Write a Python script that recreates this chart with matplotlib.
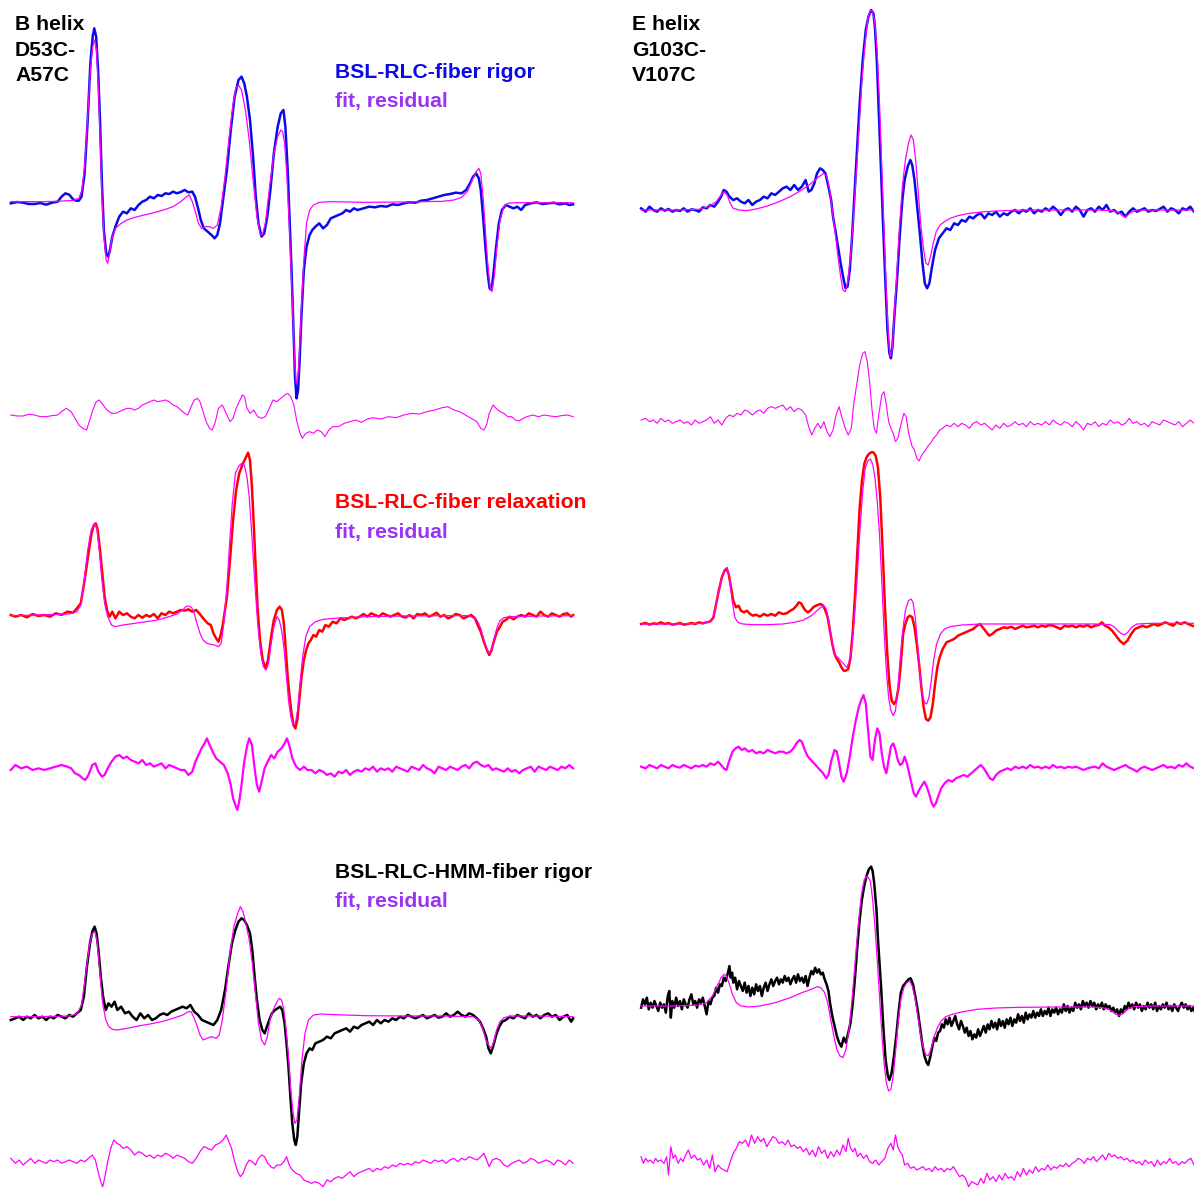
import numpy as np
import matplotlib
matplotlib.use('Agg')
import matplotlib.pyplot as plt

## EPR spectra: data, fit and residual for two labelled helices
# field axis in arbitrary units (0..1560), signal in arbitrary units

# ---------- B helix, fiber rigor ----------
b_rigor_data = [(28,0),(45,4),(60,2),(75,-2),(90,-2),(105,1),(120,-4),(135,2),(150,5),(160,20),(170,30),(180,26),
    (190,12),(198,8),(205,8),(212,20),(220,90),(228,250),(235,420),(241,500),(245,525),(250,500),(255,400),(260,250),
    (265,60),(270,-80),(276,-150),(281,-160),(286,-140),(292,-100),(300,-70),(310,-40),(320,-25),(330,-30),(340,-15),
    (350,-20),(360,-5),(370,5),(380,10),(390,20),(400,15),(410,25),(420,22),(430,30),(440,28),(450,35),(460,30),
    (470,34),(480,40),(490,33),(500,35),(507,20),(515,-15),(522,-50),(530,-75),(540,-85),(550,-95),(558,-105),
    (565,-95),(572,-60),(580,10),(590,100),(600,220),(610,320),(620,370),(628,380),(635,360),(642,320),(650,250),
    (658,140),(665,20),(672,-60),(680,-100),(687,-90),(695,-40),(703,40),(712,150),(722,230),(730,270),(737,280),
    (742,230),(748,100),(753,-50),(758,-200),(763,-380),(767,-520),(771,-585),(775,-560),(779,-470),(784,-330),
    (790,-200),(797,-130),(805,-95),(812,-80),(820,-70),(830,-60),(840,-75),(850,-65),(860,-45),(870,-40),(880,-35),
    (890,-30),(900,-20),(910,-25),(920,-15),(930,-20),(945,-15),(960,-10),(975,-12),(990,-8),(1005,-10),(1020,-3),
    (1035,-5),(1050,0),(1065,3),(1080,2),(1095,8),(1110,10),(1125,15),(1140,20),(1155,25),(1170,28),(1185,32),
    (1200,30),(1212,40),(1222,60),(1230,80),(1238,90),(1245,75),(1250,40),(1256,-40),(1262,-130),(1268,-210),
    (1273,-255),(1278,-260),(1284,-200),(1290,-130),(1297,-60),(1305,-20),(1315,-5),(1325,-10),(1335,-15),(1345,-10),
    (1355,-20),(1365,-5),(1380,0),(1395,3),(1410,-2),(1425,0),(1440,2),(1455,-3),(1470,0),(1480,-5),(1490,-3)]
b_rigor_fit = [(28,5),(100,5),(150,6),(190,9),(205,15),(213,40),(220,110),(228,260),(235,400),(241,470),(246,490),
    (251,460),(256,340),(261,170),(266,0),(271,-110),(276,-170),(280,-180),(285,-150),(292,-100),(300,-75),(315,-60),
    (330,-50),(350,-42),(375,-35),(400,-28),(425,-20),(450,-10),(470,5),(485,20),(492,25),(500,5),(508,-25),(516,-60),
    (524,-75),(535,-70),(545,-70),(555,-75),(565,-65),(575,-10),(585,80),(595,190),(605,290),(613,345),(620,355),
    (628,340),(638,280),(648,190),(658,70),(668,-40),(676,-90),(682,-95),(690,-60),(700,40),(712,150),(722,200),
    (730,220),(735,215),(740,180),(746,80),(752,-60),(757,-200),(762,-350),(766,-470),(770,-540),(774,-530),(778,-460),
    (783,-330),(790,-170),(797,-60),(805,-20),(815,-5),(830,3),(860,5),(950,3),(1050,4),(1150,6),(1180,10),(1200,18),
    (1215,35),(1228,70),(1238,95),(1245,105),(1250,90),(1256,20),(1262,-80),(1268,-180),(1274,-250),(1279,-265),
    (1285,-220),(1292,-130),(1300,-50),(1310,-10),(1320,0),(1340,2),(1400,2),(1490,2)]
b_rigor_res = [(28,0),(45,-3),(60,-3),(75,2),(90,0),(105,-5),(120,-5),(135,-2),(150,0),(160,10),(172,20),(185,10),
    (195,-10),(205,-30),(215,-40),(225,-45),(232,-20),(240,10),(250,40),(258,45),(268,30),(278,15),(290,5),(300,5),
    (310,10),(320,15),(330,20),(340,20),(350,15),(360,20),(370,30),(380,35),(390,40),(400,45),(410,40),(420,42),
    (430,45),(440,40),(450,30),(460,25),(470,15),(480,5),(488,0),(495,20),(505,45),(513,50),(520,40),(528,10),
    (536,-20),(545,-40),(552,-45),(560,-20),(568,20),(578,30),(588,5),(598,-20),(606,-10),(614,20),(622,40),(630,60),
    (636,55),(642,20),(650,5),(660,15),(670,-5),(680,-10),(690,-5),(700,20),(710,45),(720,40),(730,50),(740,60),
    (748,65),(756,55),(764,30),(772,-20),(780,-55),(786,-70),(795,-55),(805,-50),(815,-55),(825,-45),(835,-50),
    (845,-65),(855,-45),(865,-35),(880,-35),(895,-25),(910,-20),(925,-15),(940,-22),(955,-12),(970,-8),(990,-12),
    (1010,-5),(1030,-8),(1050,0),(1070,5),(1090,3),(1110,10),(1130,15),(1150,22),(1165,25),(1180,15),(1195,10),
    (1210,0),(1225,-10),(1240,-20),(1250,-40),(1258,-45),(1265,-30),(1272,5),(1282,30),(1290,20),(1300,10),(1310,5),
    (1320,-5),(1330,-5),(1340,-15),(1350,-18),(1360,-10),(1370,-5),(1385,0),(1400,-5),(1415,0),(1430,-3),(1445,-5),
    (1460,-2),(1475,0),(1490,-5)]

# ---------- B helix, fiber relaxation ----------
b_relax_data = [(28,5),(40,0),(55,5),(70,-2),(85,8),(100,2),(115,5),(130,0),(145,10),(160,5),(175,15),(190,12),
    (200,25),(210,40),(220,110),(230,190),(238,250),(244,275),(249,280),(254,260),(260,200),(266,130),(272,60),
    (278,20),(285,0),(292,15),(300,-5),(310,15),(320,5),(330,10),(340,0),(350,-5),(360,5),(370,-3),(380,5),(390,0),
    (400,8),(410,-5),(420,10),(430,5),(440,15),(450,10),(460,15),(470,20),(480,18),(490,22),(500,15),(510,20),
    (518,10),(525,0),(532,-10),(540,-20),(548,-25),(555,-50),(562,-65),(568,-75),(574,-55),(580,-20),(590,60),
    (598,170),(606,290),(614,380),(622,430),(630,455),(638,475),(645,492),(650,470),(655,390),(660,270),(665,140),
    (670,20),(676,-70),(683,-130),(690,-155),(697,-130),(705,-60),(712,-10),(720,20),(727,30),(733,20),(738,-20),
    (743,-100),(748,-180),(753,-240),(758,-290),(763,-325),(768,-335),(773,-310),(778,-250),(784,-180),(790,-130),
    (796,-100),(802,-80),(808,-70),(815,-55),(822,-60),(830,-40),(838,-45),(846,-25),(855,-30),(865,-15),(875,-20),
    (885,-5),(895,-10),(905,-5),(915,0),(925,-5),(935,0),(945,8),(955,0),(965,10),(975,5),(985,0),(995,10),(1005,5),
    (1015,0),(1025,5),(1035,10),(1045,0),(1055,-2),(1065,5),(1075,-5),(1085,8),(1095,5),(1105,10),(1115,0),(1125,5),
    (1135,12),(1145,0),(1155,5),(1165,-5),(1175,0),(1185,8),(1195,5),(1205,-5),(1215,0),(1225,5),(1235,-5),
    (1242,-25),(1250,-45),(1258,-75),(1266,-100),(1272,-115),(1278,-100),(1285,-70),(1292,-45),(1300,-30),
    (1307,-15),(1315,-10),(1325,0),(1335,-8),(1345,0),(1355,5),(1365,0),(1375,10),(1385,5),(1395,0),(1405,15),
    (1415,5),(1425,0),(1435,10),(1445,5),(1455,0),(1465,8),(1475,10),(1485,0),(1490,5)]
b_relax_fit = [(28,3),(100,5),(180,8),(200,15),(210,35),(218,100),(228,200),(237,260),(246,280),(252,265),
    (258,200),(265,110),(272,40),(280,0),(290,-25),(300,-30),(320,-25),(350,-20),(380,-15),(410,-10),(440,0),
    (460,8),(475,20),(483,30),(490,32),(498,28),(505,10),(512,-20),(520,-50),(528,-70),(538,-80),(548,-83),
    (558,-85),(568,-90),(575,-80),(582,-20),(590,90),(597,220),(604,340),(612,430),(620,450),(628,460),(635,455),
    (642,420),(648,360),(655,240),(662,110),(670,-20),(678,-110),(685,-150),(692,-160),(698,-140),(705,-80),
    (712,-30),(720,0),(726,-10),(732,-40),(738,-90),(744,-170),(750,-250),(756,-300),(762,-325),(768,-320),
    (774,-280),(780,-200),(787,-120),(795,-60),(805,-30),(820,-15),(840,-8),(870,-5),(950,0),(1050,2),(1150,3),
    (1220,3),(1240,-10),(1250,-35),(1258,-70),(1265,-95),(1272,-110),(1279,-95),(1286,-60),(1293,-30),(1300,-12),
    (1310,-3),(1330,0),(1400,2),(1490,3)]
b_relax_res = [(28,-5),(40,10),(55,0),(70,5),(85,-5),(100,0),(115,-5),(130,0),(145,5),(160,10),(175,5),(185,0),
    (195,-15),(205,-20),(215,-30),(222,-35),(230,-20),(240,10),(248,15),(256,-10),(265,-25),(272,-20),(280,0),
    (290,20),(300,35),(310,40),(320,30),(330,35),(340,25),(350,20),(360,15),(370,25),(380,10),(390,15),(400,5),
    (410,10),(420,15),(430,0),(440,10),(450,5),(460,0),(470,-5),(480,-5),(490,-20),(500,-10),(508,20),(516,40),
    (524,60),(532,75),(538,90),(545,70),(553,50),(562,30),(572,20),(582,10),(592,-15),(600,-50),(606,-90),
    (612,-110),(617,-125),(622,-100),(628,-50),(635,20),(643,70),(648,90),(655,70),(662,0),(668,-50),(674,-70),
    (680,-40),(688,0),(696,20),(705,40),(713,30),(722,50),(732,60),(740,75),(746,90),(752,70),(760,30),(770,5),
    (780,-5),(790,5),(800,-5),(810,-5),(820,-15),(830,-5),(840,-10),(850,-20),(860,-15),(870,-25),(880,-10),
    (890,-15),(900,-5),(910,-20),(920,-10),(930,-5),(940,-10),(950,0),(960,-5),(970,5),(980,-10),(990,0),(1000,-5),
    (1010,0),(1020,-10),(1030,5),(1040,0),(1050,-5),(1060,-10),(1070,5),(1080,0),(1090,-5),(1100,10),(1110,0),
    (1120,-5),(1130,-15),(1140,5),(1150,0),(1160,-5),(1170,5),(1180,0),(1190,-5),(1200,5),(1210,10),(1220,0),
    (1230,15),(1240,20),(1250,10),(1260,5),(1270,10),(1280,-5),(1290,0),(1300,-5),(1310,-10),(1320,0),(1330,-10),
    (1340,-5),(1350,-15),(1360,-5),(1370,0),(1380,5),(1390,-10),(1400,5),(1410,0),(1420,-5),(1430,5),(1440,0),
    (1450,-5),(1460,5),(1470,0),(1480,10),(1490,0)]

# ---------- B helix, HMM fiber rigor ----------
b_hmm_data = [(28,-10),(40,-5),(50,0),(60,-10),(70,0),(80,-5),(90,5),(100,-5),(110,0),(120,-10),(130,0),(140,-5),
    (150,5),(160,0),(170,-5),(180,5),(190,0),(200,10),(210,20),(218,60),(226,150),(234,220),(240,255),(246,270),
    (251,250),(256,200),(262,120),(268,60),(275,20),(282,40),(290,30),(298,45),(305,20),(315,30),(325,10),(335,15),
    (345,0),(355,-10),(365,10),(375,-5),(385,5),(395,-10),(405,-5),(415,5),(425,10),(435,5),(445,15),(455,20),
    (465,25),(475,30),(485,25),(495,35),(505,15),(515,5),(525,-10),(535,-15),(545,-20),(555,-25),(565,-10),(575,20),
    (585,80),(595,160),(603,220),(612,260),(620,285),(628,295),(635,290),(642,275),(650,250),(656,200),(662,120),
    (668,50),(675,-10),(682,-40),(688,-50),(694,-30),(700,-10),(707,10),(715,20),(722,25),(728,30),(734,20),
    (740,-20),(745,-80),(750,-150),(755,-240),(760,-320),(765,-370),(769,-385),(773,-360),(778,-280),(783,-200),
    (790,-140),(797,-110),(805,-95),(812,-100),(820,-80),(830,-75),(840,-70),(850,-60),(860,-65),(870,-50),
    (880,-45),(890,-40),(900,-35),(910,-45),(920,-30),(930,-35),(940,-25),(950,-20),(960,-15),(970,-25),(980,-10),
    (990,-20),(1000,-10),(1010,-15),(1020,-5),(1030,-10),(1040,0),(1050,-5),(1060,5),(1070,0),(1080,-5),(1090,0),
    (1100,5),(1110,-5),(1120,0),(1130,5),(1140,-3),(1150,0),(1160,10),(1170,0),(1180,5),(1190,15),(1200,5),(1210,0),
    (1220,10),(1230,5),(1240,-5),(1248,-15),(1256,-35),(1264,-60),(1270,-95),(1276,-110),(1282,-90),(1290,-55),
    (1298,-30),(1306,-15),(1315,-10),(1325,0),(1335,-5),(1345,5),(1355,0),(1365,-5),(1375,10),(1385,0),(1395,5),
    (1405,-5),(1415,5),(1425,10),(1435,0),(1445,5),(1455,-10),(1465,0),(1475,5),(1485,-15),(1490,-5)]
b_hmm_fit = [(28,0),(100,0),(180,2),(200,8),(212,35),(222,120),(232,210),(240,250),(247,255),(253,220),(260,130),
    (267,40),(275,-10),(283,-30),(292,-38),(305,-40),(330,-35),(360,-28),(390,-22),(420,-15),(450,-5),(475,5),
    (490,15),(497,15),(505,-5),(513,-30),(520,-55),(528,-70),(538,-65),(550,-60),(562,-65),(570,-55),(578,-10),
    (588,80),(598,190),(608,270),(618,310),(625,330),(632,315),(640,275),(648,230),(656,160),(664,70),(672,-20),
    (680,-70),(688,-85),(695,-60),(702,-10),(710,20),(718,40),(726,55),(732,50),(738,20),(744,-40),(750,-120),
    (756,-220),(762,-290),(767,-320),(772,-310),(778,-240),(785,-130),(793,-50),(802,-10),(815,5),(835,8),(870,6),
    (950,3),(1050,2),(1150,2),(1230,0),(1245,-10),(1255,-35),(1262,-65),(1270,-85),(1277,-95),(1284,-75),(1291,-40),
    (1300,-15),(1310,-3),(1330,2),(1400,2),(1490,0)]
b_hmm_res = [(28,10),(40,-5),(50,5),(60,-10),(70,0),(80,10),(90,-5),(100,5),(110,0),(120,-5),(130,5),(140,0),
    (150,5),(160,-5),(170,0),(180,5),(190,0),(200,-5),(210,5),(220,0),(230,10),(240,20),(248,5),(255,-30),(262,-60),
    (267,-75),(272,-50),(280,0),(288,40),(296,65),(304,55),(312,50),(320,40),(330,45),(340,35),(350,20),(360,30),
    (370,25),(380,15),(390,20),(400,10),(410,20),(420,15),(430,25),(440,20),(450,10),(460,20),(470,15),(480,10),
    (490,0),(500,-5),(510,10),(520,30),(530,45),(540,40),(550,35),(560,50),(570,55),(580,65),(588,80),(595,60),
    (602,40),(610,0),(618,-30),(625,-45),(632,-35),(640,-10),(648,5),(656,0),(664,-10),(672,10),(680,20),(688,15),
    (696,-5),(704,-15),(712,-20),(720,-10),(730,-10),(738,0),(745,15),(752,-10),(760,-25),(770,-35),(780,-40),
    (790,-55),(800,-60),(810,-65),(820,-60),(830,-65),(840,-75),(850,-55),(860,-60),(870,-50),(880,-45),(890,-50),
    (900,-40),(910,-30),(920,-45),(930,-35),(940,-30),(950,-25),(960,-20),(970,-30),(980,-20),(990,-25),(1000,-15),
    (1010,-20),(1020,-10),(1030,-15),(1040,-5),(1050,-10),(1060,-5),(1070,-10),(1080,0),(1090,-5),(1100,5),(1110,0),
    (1120,-5),(1130,5),(1140,0),(1150,5),(1160,-5),(1170,5),(1180,10),(1190,0),(1200,10),(1210,5),(1220,15),
    (1230,10),(1240,5),(1250,15),(1258,25),(1265,5),(1272,-15),(1280,5),(1290,10),(1300,5),(1310,-10),(1320,-15),
    (1330,-5),(1340,0),(1350,5),(1360,-5),(1370,0),(1380,10),(1390,5),(1400,-5),(1410,0),(1420,5),(1430,0),
    (1440,-10),(1450,5),(1460,0),(1470,-10),(1480,5),(1490,-5)]

# ---------- E helix, fiber rigor ----------
e_rigor_data = [(108,5),(120,-5),(130,10),(140,0),(150,-5),(160,5),(170,-2),(180,3),(190,-5),(200,0),(210,-3),
    (220,5),(230,-5),(240,2),(250,0),(260,-5),(270,8),(280,5),(290,15),(300,10),(310,25),(318,40),(325,60),(332,55),
    (340,40),(350,30),(360,35),(370,25),(380,20),(390,30),(400,15),(410,25),(420,30),(430,40),(440,35),(450,50),
    (460,45),(470,55),(480,65),(490,70),(500,60),(510,75),(520,60),(530,70),(540,90),(548,55),(555,60),(563,80),
    (570,110),(578,125),(585,120),(592,110),(600,70),(607,30),(612,-20),(618,-60),(625,-110),(632,-160),(640,-210),
    (645,-235),(650,-230),(656,-180),(662,-80),(668,40),(675,180),(682,320),(690,450),(698,540),(705,580),(712,600),
    (718,590),(722,550),(727,450),(732,300),(738,120),(744,-60),(750,-230),(755,-360),(760,-430),(764,-445),
    (768,-410),(773,-320),(780,-210),(787,-80),(794,30),(800,90),(808,130),(815,150),(820,135),(826,90),(832,20),
    (840,-70),(847,-160),(853,-220),(859,-235),(865,-220),(872,-170),(880,-120),(890,-85),(900,-70),(910,-55),
    (920,-60),(930,-40),(940,-45),(950,-30),(960,-35),(970,-20),(980,-25),(990,-15),(1000,-10),(1010,-25),
    (1020,-10),(1030,-15),(1040,-5),(1050,-20),(1060,-10),(1070,-15),(1080,-5),(1090,0),(1100,-10),(1110,0),
    (1120,-5),(1130,5),(1140,-10),(1150,0),(1160,-5),(1170,5),(1180,-2),(1190,10),(1200,0),(1210,-15),(1220,0),
    (1230,5),(1240,-5),(1250,10),(1260,0),(1270,-20),(1280,0),(1290,5),(1300,-5),(1310,10),(1320,0),(1330,15),
    (1340,-5),(1350,0),(1360,-10),(1370,-5),(1380,-20),(1390,-5),(1400,5),(1410,-5),(1420,0),(1430,5),(1440,-5),
    (1450,0),(1460,-3),(1470,3),(1480,10),(1490,-5),(1500,5),(1510,0),(1520,-10),(1530,5),(1540,0),(1550,10),
    (1560,-5),(1568,0)]
e_rigor_fit = [(108,0),(200,0),(260,2),(285,10),(305,25),(318,45),(326,55),(334,45),(342,20),(350,5),(365,0),
    (385,-2),(410,3),(440,12),(470,25),(500,40),(530,60),(555,80),(575,100),(588,110),(596,100),(603,60),(610,0),
    (617,-60),(624,-130),(632,-200),(638,-240),(644,-245),(650,-220),(657,-150),(664,-50),(672,90),(680,240),
    (688,390),(696,500),(703,570),(710,600),(716,595),(722,560),(728,470),(734,320),(740,130),(746,-60),(752,-250),
    (758,-390),(762,-440),(767,-420),(772,-330),(779,-200),(786,-60),(794,70),(802,150),(810,200),(817,225),
    (823,210),(829,150),(836,50),(843,-50),(850,-120),(856,-160),(862,-165),(868,-140),(875,-100),(883,-65),
    (893,-45),(905,-35),(920,-25),(940,-17),(970,-10),(1010,-5),(1060,-2),(1120,0),(1200,0),(1300,0),(1350,-2),
    (1365,-10),(1375,-20),(1383,-18),(1393,-8),(1410,0),(1480,0),(1568,0)]
e_rigor_res = [(108,5),(120,10),(130,0),(140,5),(150,-5),(160,10),(170,0),(180,5),(190,-5),(200,0),(210,5),
    (220,-5),(230,0),(240,-10),(250,5),(260,-5),(270,0),(280,5),(290,15),(300,-5),(310,5),(320,-10),(330,10),
    (340,20),(350,15),(360,25),(370,20),(380,35),(390,30),(400,20),(410,30),(420,35),(430,25),(440,40),(450,45),
    (460,40),(470,45),(480,50),(490,35),(500,45),(510,30),(520,40),(530,35),(540,20),(548,-15),(556,-40),(564,-20),
    (572,-5),(580,-20),(588,0),(596,-30),(604,-45),(612,-25),(620,20),(628,45),(636,10),(644,-20),(652,-40),
    (660,-20),(666,50),(674,110),(682,170),(690,205),(696,210),(702,180),(708,120),(714,40),(720,-20),(726,-35),
    (732,20),(740,80),(746,90),(752,50),(758,0),(764,-20),(770,-35),(776,-60),(782,-50),(790,-10),(798,25),(804,15),
    (810,-30),(816,-60),(820,-75),(826,-85),(832,-110),(838,-118),(845,-100),(852,-90),(860,-75),(868,-65),
    (876,-50),(884,-40),(892,-25),(900,-20),(910,-10),(920,-15),(930,-5),(940,-15),(950,-5),(960,-10),(970,-20),
    (980,-5),(990,0),(1000,-10),(1010,-5),(1020,-15),(1030,-25),(1040,-10),(1050,-20),(1060,-5),(1070,-15),
    (1080,-10),(1090,0),(1100,-10),(1110,-5),(1120,-15),(1130,0),(1140,-10),(1150,-5),(1160,-10),(1170,0),
    (1180,-10),(1190,5),(1200,-5),(1210,-10),(1220,0),(1230,-5),(1240,-15),(1250,0),(1260,-10),(1270,-25),(1280,-5),
    (1290,-10),(1300,0),(1310,-15),(1320,-5),(1330,-10),(1340,5),(1350,-5),(1360,0),(1370,-10),(1380,-5),(1390,10),
    (1400,-5),(1410,0),(1420,-10),(1430,-5),(1440,-15),(1450,0),(1460,-5),(1470,-10),(1480,5),(1490,0),(1500,-5),
    (1510,-10),(1520,0),(1530,-15),(1540,-5),(1550,5),(1560,-5),(1568,0)]

# ---------- E helix, fiber relaxation ----------
e_relax_data = [(108,0),(120,3),(130,-2),(140,2),(150,0),(160,5),(170,0),(180,3),(190,-2),(200,0),(210,3),(220,-2),
    (230,0),(240,3),(250,0),(260,5),(270,2),(280,5),(290,8),(298,20),(305,60),(312,100),(320,140),(327,160),
    (333,165),(338,150),(344,110),(350,70),(357,50),(364,55),(370,40),(378,35),(386,40),(394,30),(402,25),(410,28),
    (420,22),(430,30),(440,25),(450,30),(460,25),(470,35),(480,30),(490,32),(500,40),(508,45),(516,55),(522,65),
    (528,62),(534,50),(540,40),(546,35),(552,40),(560,50),(567,55),(574,58),(580,60),(586,55),(592,40),(598,20),
    (604,-20),(610,-60),(616,-90),(622,-105),(628,-115),(634,-130),(640,-140),(646,-140),(652,-135),(658,-100),
    (664,-20),(670,90),(676,220),(682,350),(688,430),(694,480),(700,500),(706,510),(712,515),(718,515),(724,505),
    (730,470),(736,380),(742,230),(748,60),(754,-80),(760,-180),(766,-230),(772,-240),(778,-230),(784,-190),
    (790,-120),(796,-30),(802,0),(808,20),(814,25),(820,20),(826,-10),(832,-60),(838,-120),(844,-190),(850,-250),
    (856,-285),(862,-290),(868,-280),(874,-240),(880,-180),(886,-130),(892,-100),(900,-75),(910,-55),(920,-50),
    (930,-45),(940,-35),(950,-30),(960,-25),(970,-20),(980,-15),(990,-5),(998,0),(1005,-10),(1015,-25),(1022,-35),
    (1030,-30),(1040,-20),(1050,-15),(1060,-10),(1070,-12),(1080,-8),(1090,-15),(1100,-10),(1110,-5),(1120,-10),
    (1130,-8),(1140,-5),(1150,-10),(1160,-5),(1170,-8),(1180,-3),(1190,-5),(1200,-10),(1210,-15),(1220,-5),
    (1230,-8),(1240,-5),(1250,-10),(1260,-5),(1270,-8),(1280,-3),(1290,-10),(1300,-5),(1310,-3),(1318,5),(1326,-5),
    (1335,-10),(1345,-20),(1355,-35),(1365,-50),(1375,-60),(1385,-50),(1395,-30),(1405,-15),(1415,-10),(1425,-5),
    (1435,-10),(1445,-5),(1455,0),(1465,-5),(1475,0),(1485,5),(1495,0),(1505,-5),(1515,5),(1525,0),(1535,5),
    (1545,0),(1555,-5),(1568,-10)]
e_relax_fit = [(108,0),(200,0),(270,2),(290,8),(300,30),(310,90),(320,140),(328,165),(334,170),(340,140),(347,70),
    (354,20),(362,5),(375,0),(400,-2),(440,-2),(480,0),(510,5),(535,12),(555,25),(570,40),(580,50),(588,55),
    (594,45),(600,15),(606,-30),(612,-70),(618,-95),(625,-100),(632,-110),(640,-120),(648,-130),(656,-110),(662,-60),
    (668,20),(675,130),(682,270),(690,400),(697,470),(704,490),(710,495),(716,480),(722,440),(728,370),(734,270),
    (740,130),(746,-20),(752,-140),(758,-220),(764,-260),(770,-275),(776,-260),(782,-200),(788,-110),(795,-20),
    (802,40),(810,70),(817,75),(822,65),(828,20),(834,-60),(840,-150),(846,-210),(852,-235),(858,-240),(864,-220),
    (870,-170),(876,-110),(884,-60),(894,-30),(905,-15),(920,-8),(950,-3),(1000,0),(1100,0),(1300,0),(1340,-2),
    (1350,-8),(1360,-20),(1370,-30),(1378,-32),(1386,-25),(1396,-10),(1410,0),(1450,2),(1568,2)]
e_relax_res = [(108,0),(120,-5),(130,5),(140,0),(150,-5),(160,5),(170,0),(180,-5),(190,5),(200,0),(210,-3),
    (220,5),(230,0),(240,-5),(250,3),(260,0),(270,5),(280,0),(290,10),(300,5),(310,15),(318,5),(325,-5),(332,-10),
    (340,20),(348,45),(356,55),(364,60),(372,50),(380,55),(390,45),(400,50),(410,40),(420,45),(430,40),(440,50),
    (450,45),(460,40),(470,45),(480,45),(490,40),(500,45),(508,55),(516,70),(524,80),(530,75),(538,50),(546,30),
    (554,20),(562,10),(570,0),(578,-10),(586,-20),(594,-35),(600,-25),(608,20),(616,50),(622,45),(628,10),(634,-30),
    (640,-45),(648,-20),(656,30),(664,90),(672,140),(680,180),(686,200),(692,215),(698,190),(704,110),(710,30),
    (716,20),(722,80),(728,115),(734,100),(740,40),(746,0),(752,-20),(758,20),(764,60),(770,70),(776,50),(782,20),
    (788,5),(794,10),(800,30),(806,10),(812,-20),(818,-50),(824,-80),(830,-90),(838,-70),(846,-55),(852,-45),
    (858,-60),(864,-80),(870,-105),(876,-120),(882,-110),(888,-90),(896,-65),(905,-50),(915,-40),(925,-45),
    (935,-35),(945,-30),(955,-25),(965,-30),(975,-20),(985,-10),(995,0),(1000,5),(1008,-5),(1016,-20),(1024,-35),
    (1032,-40),(1040,-25),(1050,-15),(1060,-10),(1070,-5),(1080,-10),(1090,0),(1100,-5),(1110,0),(1120,-5),
    (1130,5),(1140,-3),(1150,0),(1160,-5),(1170,0),(1180,-5),(1190,5),(1200,-3),(1210,0),(1220,-5),(1230,0),
    (1240,-3),(1250,0),(1260,-5),(1270,-10),(1280,-5),(1290,-2),(1300,0),(1310,-5),(1320,10),(1330,0),(1340,-5),
    (1350,-10),(1360,-5),(1370,0),(1380,5),(1390,-3),(1400,-8),(1410,-15),(1420,-5),(1430,0),(1440,-5),(1450,-10),
    (1460,-5),(1470,0),(1480,5),(1490,-3),(1500,0),(1510,-5),(1520,5),(1530,0),(1540,10),(1550,0),(1560,-5),
    (1568,-15)]

# ---------- E helix, HMM fiber rigor (noisy) ----------
e_hmm_data = [(108,-5),(113,20),(118,5),(123,25),(128,-10),(133,10),(138,-5),(143,15),(148,0),(153,-15),(158,10),
    (163,-5),(168,5),(173,-20),(178,30),(182,45),(186,-35),(190,15),(195,-5),(200,25),(205,0),(210,15),(215,-10),
    (220,20),(225,5),(230,-5),(235,20),(240,35),(245,5),(250,15),(255,-5),(260,20),(265,10),(270,25),(275,0),
    (280,-25),(285,15),(290,5),(295,25),(300,30),(305,55),(310,40),(315,65),(320,60),(325,85),(330,75),(335,95),
    (340,120),(343,85),(347,100),(350,70),(355,85),(360,50),(365,75),(370,60),(375,45),(380,70),(385,40),(390,60),
    (395,30),(400,55),(405,35),(410,65),(415,45),(420,60),(425,30),(430,55),(435,70),(440,45),(445,65),(450,80),
    (455,60),(460,75),(465,85),(470,65),(475,80),(480,70),(485,90),(490,75),(495,85),(500,65),(505,80),(510,90),
    (515,70),(520,95),(525,75),(530,85),(535,70),(540,90),(545,60),(550,85),(555,105),(560,95),(565,115),(570,100),
    (575,110),(580,95),(585,100),(590,80),(595,65),(600,45),(604,10),(610,-30),(616,-60),(622,-90),(628,-110),
    (634,-122),(640,-95),(646,-110),(652,-80),(658,-50),(664,10),(670,90),(676,180),(682,260),(688,320),(694,360),
    (700,390),(706,410),(712,418),(716,405),(720,370),(726,290),(730,200),(738,60),(744,-60),(750,-160),(756,-210),
    (760,-222),(766,-200),(772,-150),(778,-90),(784,-20),(790,40),(796,60),(803,70),(810,80),(816,83),(822,65),
    (828,30),(834,-10),(840,-60),(846,-110),(852,-150),(858,-170),(862,-177),(868,-150),(873,-120),(878,-95),
    (883,-105),(888,-80),(893,-75),(898,-55),(903,-65),(908,-40),(913,-55),(918,-35),(923,-60),(928,-45),(933,-30),
    (938,-55),(943,-70),(948,-45),(953,-60),(958,-80),(963,-65),(968,-90),(973,-75),(978,-100),(983,-85),(988,-95),
    (993,-70),(998,-90),(1003,-75),(1008,-60),(1013,-80),(1018,-55),(1023,-70),(1028,-45),(1033,-65),(1038,-50),
    (1043,-70),(1048,-40),(1053,-60),(1058,-45),(1063,-65),(1068,-40),(1073,-55),(1078,-35),(1083,-60),(1088,-40),
    (1093,-50),(1098,-25),(1103,-45),(1108,-30),(1113,-50),(1118,-20),(1123,-40),(1128,-25),(1133,-35),(1138,-15),
    (1143,-35),(1148,-20),(1153,-30),(1158,-10),(1163,-30),(1168,-15),(1173,-25),(1178,-5),(1183,-30),(1188,-10),
    (1193,-20),(1198,-5),(1203,-25),(1208,-10),(1213,-20),(1218,5),(1223,-15),(1228,0),(1233,-20),(1238,-5),
    (1243,-15),(1248,10),(1253,-5),(1258,5),(1263,-10),(1268,15),(1273,0),(1278,10),(1283,-5),(1288,15),(1293,0),
    (1298,10),(1303,-10),(1308,5),(1313,-5),(1318,10),(1323,-10),(1328,5),(1333,-5),(1338,0),(1343,-15),(1348,-5),
    (1353,-20),(1358,-10),(1363,-30),(1368,-10),(1373,-20),(1378,0),(1383,-10),(1388,10),(1393,-5),(1398,5),
    (1403,-10),(1408,10),(1413,-5),(1418,5),(1423,-15),(1428,0),(1433,-10),(1438,10),(1443,-5),(1448,5),(1453,-10),
    (1458,10),(1463,-15),(1468,0),(1473,-10),(1478,5),(1483,-5),(1488,10),(1493,-10),(1498,0),(1503,-15),(1508,5),
    (1513,-5),(1518,-15),(1523,0),(1528,10),(1533,-5),(1538,5),(1543,-10),(1548,0),(1553,-15),(1558,-5),(1563,-20),
    (1568,-10)]
e_hmm_fit = [(108,0),(200,0),(260,3),(280,10),(295,30),(308,60),(318,85),(326,95),(332,90),(340,65),(348,35),
    (358,10),(370,0),(390,-3),(420,0),(460,10),(500,25),(530,40),(555,50),(570,58),(580,55),(590,40),(598,10),
    (606,-40),(614,-90),(622,-130),(630,-150),(638,-155),(646,-130),(654,-70),(662,20),(670,130),(678,240),(686,330),
    (694,380),(702,390),(710,375),(716,320),(722,240),(728,140),(734,30),(740,-80),(746,-170),(752,-230),(758,-255),
    (764,-250),(770,-210),(776,-140),(782,-60),(790,20),(798,55),(806,70),(813,75),(820,60),(827,25),(834,-25),
    (841,-80),(848,-120),(855,-145),(862,-150),(869,-130),(877,-95),(886,-65),(896,-45),(908,-32),(925,-25),
    (950,-18),(990,-10),(1040,-6),(1100,-4),(1200,-3),(1290,-3),(1320,-5),(1340,-12),(1355,-25),(1365,-28),
    (1375,-22),(1385,-10),(1400,-2),(1450,0),(1568,0)]
e_hmm_res = [(108,15),(114,-5),(120,10),(126,0),(132,5),(140,-5),(146,10),(152,0),(160,5),(168,-5),(175,15),
    (180,-40),(186,45),(192,10),(198,20),(205,-5),(212,10),(218,0),(225,20),(232,35),(240,10),(248,20),(256,5),
    (264,10),(272,-10),(280,5),(288,-20),(295,20),(302,-30),(310,-10),(318,-20),(326,-25),(334,-30),(342,0),(350,25),
    (358,40),(366,60),(374,55),(382,65),(390,45),(398,80),(406,55),(414,75),(422,60),(430,70),(438,45),(446,60),
    (454,75),(462,70),(470,55),(478,60),(486,50),(494,65),(502,45),(510,50),(518,40),(526,45),(534,30),(542,40),
    (550,20),(558,35),(566,15),(574,45),(582,25),(590,35),(598,10),(606,30),(614,15),(622,35),(630,20),(638,50),
    (646,30),(652,70),(658,40),(664,30),(670,40),(676,15),(684,25),(692,10),(700,20),(708,0),(716,-5),(724,5),
    (732,-10),(740,0),(748,10),(756,40),(764,55),(770,35),(776,80),(782,45),(788,30),(794,20),(800,-10),(808,-5),
    (816,-20),(824,-15),(832,-25),(840,-20),(848,-15),(856,-25),(864,-20),(872,-30),(880,-15),(888,-25),(896,-20),
    (904,-30),(912,-20),(920,-25),(928,-15),(936,-30),(944,-45),(952,-40),(960,-50),(968,-75),(976,-60),(984,-65),
    (992,-70),(1000,-50),(1008,-65),(1016,-35),(1024,-55),(1032,-45),(1040,-60),(1048,-40),(1056,-55),(1064,-35),
    (1072,-50),(1080,-45),(1088,-55),(1096,-30),(1104,-45),(1112,-20),(1120,-40),(1128,-25),(1136,-35),(1144,-15),
    (1152,-30),(1160,-20),(1168,-25),(1176,-10),(1184,-25),(1192,-15),(1200,-20),(1208,-10),(1216,-15),(1224,-5),
    (1232,-15),(1240,-5),(1248,0),(1256,10),(1264,5),(1272,-5),(1280,10),(1288,5),(1296,15),(1304,0),(1312,10),
    (1320,20),(1328,5),(1336,25),(1344,15),(1352,20),(1360,10),(1368,15),(1376,5),(1384,10),(1392,0),(1400,5),
    (1408,-5),(1416,0),(1424,-10),(1432,5),(1440,-5),(1448,0),(1456,-15),(1464,5),(1472,-10),(1480,0),(1488,-5),
    (1496,10),(1504,-5),(1512,0),(1520,-10),(1528,0),(1536,-5),(1544,5),(1552,10),(1560,-10),(1568,-20)]

helix_labels = ['B helix\nD53C-\nA57C', 'E helix\nG103C-\nV107C']
condition_labels = ['BSL-RLC-fiber rigor', 'BSL-RLC-fiber relaxation', 'BSL-RLC-HMM-fiber rigor']
fit_label = 'fit, residual'

# ---------- layout / style ----------
W, H = 1194, 1188
data_colors = ['#0a0ae6', '#ff0000', '#000000']
fit_color = '#ff00ff'
label_color = '#9933f5'
res_lw = [0.8, 1.6, 0.9]

# vertical offsets of the data/fit and residual baselines (in signal units, 3 per pixel)
left_offsets = [(610, 1245), (1850, 2305), (3050, 3485)]
right_offsets = [(630, 1265), (1872, 2300), (3018, 3485)]

fig = plt.figure(figsize=(W / 100, H / 100), dpi=100)
ax_l = fig.add_axes([0, 0, 600 / W, 1])
ax_r = fig.add_axes([600 / W, 0, 594 / W, 1])

left_sets = [(b_rigor_data, b_rigor_fit, b_rigor_res),
             (b_relax_data, b_relax_fit, b_relax_res),
             (b_hmm_data, b_hmm_fit, b_hmm_res)]
right_sets = [(e_rigor_data, e_rigor_fit, e_rigor_res),
              (e_relax_data, e_relax_fit, e_relax_res),
              (e_hmm_data, e_hmm_fit, e_hmm_res)]

for ax, sets, offs in [(ax_l, left_sets, left_offsets), (ax_r, right_sets, right_offsets)]:
    for i, (d, f, r) in enumerate(sets):
        base, rbase = offs[i]
        d = np.array(d, dtype=float)
        f = np.array(f, dtype=float)
        r = np.array(r, dtype=float)
        ax.plot(r[:, 0], r[:, 1] - rbase, color=fit_color, lw=res_lw[i], zorder=1)
        ax.plot(d[:, 0], d[:, 1] - base, color=data_colors[i], lw=1.8, zorder=2,
                solid_joinstyle='round')
        ax.plot(f[:, 0], f[:, 1] - base, color=fit_color, lw=0.9, zorder=3)
    ax.set_xlim(0, 1560)
    ax.set_ylim(-3 * H, 0)
    ax.axis('off')

font = ['Liberation Sans', 'DejaVu Sans']
fs = 15.2

def px(x, y):
    return x / W, 1 - y / H

for (x, y), s in zip([(15, 50), (632, 50)], helix_labels):
    fig.text(*px(x, y), s, ha='left', va='center', fontsize=fs, fontweight='bold',
             family=font, color='black', linespacing=1.42)

for (y1, y2), s, c in zip([(72, 101), (502, 532), (872, 902)], condition_labels, data_colors):
    fig.text(*px(335, y1), s, ha='left', va='center', fontsize=fs, fontweight='bold',
             family=font, color=c)
    fig.text(*px(335, y2), fit_label, ha='left', va='center', fontsize=fs, fontweight='bold',
             family=font, color=label_color)

fig.savefig('out.png', dpi=100)
